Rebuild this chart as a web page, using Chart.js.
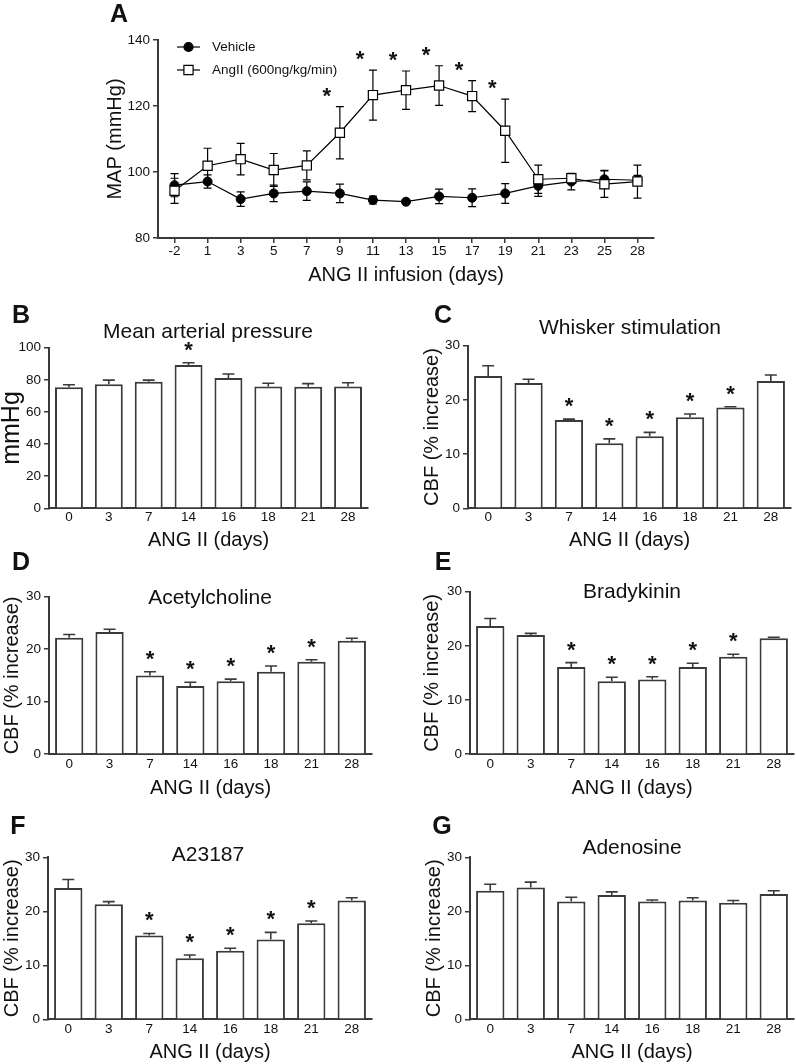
<!DOCTYPE html>
<html>
<head>
<meta charset="utf-8">
<script src="https://cdn.jsdelivr.net/npm/chart.js@4.4.0/dist/chart.umd.min.js"></script>
<style>
  body { margin: 0; background: #fff; }
  #page { position: relative; width: 796px; height: 1064px; overflow: hidden; background: #fff; }
  #page canvas { position: absolute; }
</style>
</head>
<body>
<div id="page"></div>
<script>
// ---- panel A: MAP time course ----
const infusionDays = ['-2', '1', '3', '5', '7', '9', '11', '13', '15', '17', '19', '21', '23', '25', '28'];
const vehicleMap = [96.0, 97.1, 91.8, 93.5, 94.2, 93.5, 91.5, 91.0, 92.6, 92.2, 93.5, 95.8, 97.1, 97.8, 97.5];
const vehicleSem = [3.5, 2.0, 2.2, 2.5, 2.8, 2.8, 1.2, 0.5, 2.2, 2.7, 3.0, 3.2, 2.5, 2.7, 1.5];
const angMap = [94.3, 101.9, 103.9, 100.6, 102.0, 111.9, 123.3, 124.8, 126.2, 123.0, 112.5, 97.8, 98.1, 96.3, 97.1];
const angSem = [3.8, 5.3, 4.8, 5.0, 4.4, 7.9, 7.6, 5.8, 6.0, 4.7, 9.6, 4.3, 1.3, 4.0, 5.0];
const angStars = [0, 0, 0, 0, 0, 1, 1, 1, 1, 1, 1, 0, 0, 0, 0];

// ---- panels B-G: bars ----
const barDays = ['0', '3', '7', '14', '16', '18', '21', '28'];
const mapMean = [75.3, 77.2, 78.8, 89.2, 81.1, 75.9, 75.7, 75.9];
const mapSem = [1.6, 2.6, 1.0, 1.4, 2.5, 2.0, 1.9, 2.3];
const mapStars = [0, 0, 0, 1, 0, 0, 0, 0];
const whiskerMean = [24.4, 23.1, 16.3, 12.0, 13.3, 16.8, 18.6, 23.5];
const whiskerSem = [1.9, 0.7, 0.15, 0.8, 0.7, 0.6, 0.15, 1.1];
const achMean = [22.2, 23.3, 15.0, 13.0, 13.9, 15.7, 17.6, 21.6];
const achSem = [0.6, 0.5, 0.7, 0.7, 0.4, 1.1, 0.4, 0.5];
const bkMean = [23.65, 22.0, 16.1, 13.45, 13.8, 16.1, 18.0, 21.4];
const bkSem = [1.4, 0.3, 0.8, 0.75, 0.5, 0.7, 0.45, 0.2];
const a23Mean = [24.3, 21.3, 15.5, 11.3, 12.7, 14.8, 17.8, 22.0];
const a23Sem = [1.6, 0.5, 0.4, 0.6, 0.45, 1.3, 0.4, 0.5];
const adoMean = [23.8, 24.4, 21.8, 23.0, 21.8, 22.0, 21.6, 23.2];
const adoSem = [1.2, 1.0, 0.8, 0.6, 0.3, 0.5, 0.4, 0.6];
const cbfStars = [0, 0, 1, 1, 1, 1, 1, 0];
const noStars = [0, 0, 0, 0, 0, 0, 0, 0];

const FONT = '"Liberation Sans", Arial, Helvetica, sans-serif';
const INK = '#111';
const AXIS = '#3a3a3a';

Chart.defaults.font.family = FONT;
Chart.defaults.color = INK;
Chart.defaults.animation = false;

// error bars, asterisks, panel letter/title, legend
const decor = {
  id: 'decor',
  beforeDatasetsDraw(chart, args, opts) {
    if (chart.config.type === 'line') drawErrors(chart, opts);
  },
  afterDatasetsDraw(chart, args, opts) {
    if (chart.config.type === 'bar') drawErrors(chart, opts);
    drawStars(chart, opts);
  },
  afterDraw(chart, args, opts) {
    const ctx = chart.ctx;
    ctx.save();
    ctx.fillStyle = INK;
    ctx.textBaseline = 'middle';
    ctx.textAlign = 'center';
    if (opts.letter) {
      ctx.font = 'bold 25px ' + FONT;
      ctx.fillText(opts.letter.text, opts.letter.x - opts.ox, opts.letter.y - opts.oy);
    }
    if (opts.title) {
      ctx.font = '21px ' + FONT;
      ctx.fillText(opts.title.text, opts.title.x - opts.ox, opts.title.y - opts.oy);
    }
    if (opts.legend) {
      opts.legend.forEach(item => {
        const ds = chart.data.datasets[item.ds];
        const y = item.y - opts.oy;
        const x0 = 177 - opts.ox, x1 = 200 - opts.ox, xm = (x0 + x1) / 2;
        ctx.strokeStyle = ds.borderColor;
        ctx.lineWidth = 1.2;
        ctx.beginPath(); ctx.moveTo(x0, y); ctx.lineTo(x1, y); ctx.stroke();
        ctx.fillStyle = ds.pointBackgroundColor;
        ctx.beginPath();
        if (ds.pointStyle === 'rect') {
          const s = ds.pointRadius * Math.SQRT1_2;
          ctx.rect(xm - s, y - s, 2 * s, 2 * s);
        } else {
          ctx.arc(xm, y, ds.pointRadius, 0, Math.PI * 2);
        }
        ctx.fill(); ctx.stroke();
        ctx.fillStyle = INK;
        ctx.font = '13.5px ' + FONT;
        ctx.textAlign = 'left';
        ctx.fillText(item.label, 212 - opts.ox, y);
      });
    }
    ctx.restore();
  }
};

function drawErrors(chart, opts) {
  const ctx = chart.ctx, ys = chart.scales.y;
  ctx.save();
  ctx.strokeStyle = opts.errColor;
  ctx.lineWidth = opts.errWidth;
  chart.data.datasets.forEach((ds, i) => {
    const meta = chart.getDatasetMeta(i);
    meta.data.forEach((el, j) => {
      const v = ds.data[j], e = ds.errors[j];
      const top = ys.getPixelForValue(v + e);
      const bot = opts.twoSided ? ys.getPixelForValue(v - e) : ys.getPixelForValue(v);
      const w = opts.cap / 2;
      ctx.beginPath();
      ctx.moveTo(el.x, bot); ctx.lineTo(el.x, top);
      ctx.moveTo(el.x - w, top); ctx.lineTo(el.x + w, top);
      if (opts.twoSided) { ctx.moveTo(el.x - w, bot); ctx.lineTo(el.x + w, bot); }
      ctx.stroke();
    });
  });
  ctx.restore();
}

function drawStars(chart, opts) {
  const ctx = chart.ctx, ys = chart.scales.y;
  ctx.save();
  ctx.fillStyle = INK;
  ctx.font = 'bold 22px ' + FONT;
  ctx.textAlign = 'center';
  ctx.textBaseline = 'alphabetic';
  chart.data.datasets.forEach((ds, i) => {
    if (!ds.stars) return;
    const meta = chart.getDatasetMeta(i);
    meta.data.forEach((el, j) => {
      if (!ds.stars[j]) return;
      const top = ys.getPixelForValue(ds.data[j] + ds.errors[j]);
      ctx.fillText('*', el.x + opts.starDx, top - opts.starGap + 12);
    });
  });
  ctx.restore();
}

function scalesFor(p) {
  const c = p.canvas, a = p.plot;
  const yTitleSize = p.yTitleSize || 20;
  return {
    x: {
      offset: true,
      grid: { display: true, drawOnChartArea: false, drawTicks: p.xTicks, tickLength: 5, color: AXIS, lineWidth: 1.5 },
      border: { display: true, color: AXIS, width: 2 },
      ticks: { font: { size: 13.5 }, color: INK, padding: p.xTickPad, maxRotation: 0, autoSkip: false },
      title: { display: true, text: p.xTitle, font: { size: 20 }, color: INK, padding: { top: 0, bottom: p.xTitlePad } },
      afterFit: s => { s.height = c.y + c.h - a.b; }
    },
    y: {
      min: p.yMin, max: p.yMax,
      ticks: { stepSize: p.yStep, font: { size: 13.5 }, color: INK, padding: 3 },
      grid: { drawOnChartArea: false, tickLength: 5, color: AXIS, lineWidth: 1.5 },
      border: { color: AXIS, width: 2 },
      title: { display: true, text: p.yTitle, font: { size: yTitleSize }, color: INK,
        padding: { top: p.yTitleX - c.x - yTitleSize * 0.6, bottom: 0 } },
      afterFit: s => { s.width = a.l - c.x; }
    }
  };
}

function makePanel(p, type, datasets, extra) {
  const c = p.canvas, a = p.plot;
  const cv = document.createElement('canvas');
  cv.width = c.w; cv.height = c.h;
  cv.style.left = c.x + 'px'; cv.style.top = c.y + 'px';
  document.getElementById('page').appendChild(cv);
  new Chart(cv, {
    type: type,
    data: { labels: p.labels, datasets: datasets },
    options: {
      responsive: false,
      devicePixelRatio: 1,
      layout: { padding: { top: a.t - c.y, right: c.x + c.w - a.r, left: 0, bottom: 0 } },
      scales: scalesFor(p),
      plugins: {
        legend: { display: false },
        tooltip: { enabled: false },
        decor: Object.assign({ ox: c.x, oy: c.y, letter: p.letter, title: p.title }, extra)
      }
    },
    plugins: [decor]
  });
}

// panel A
makePanel({
  labels: infusionDays,
  canvas: { x: 90, y: 0, w: 580, h: 290 }, plot: { l: 158, t: 40, r: 654, b: 238 },
  yMin: 80, yMax: 140, yStep: 20, yTitle: 'MAP (mmHg)', yTitleX: 115,
  xTitle: 'ANG II infusion (days)', xTitlePad: 3, xTicks: true, xTickPad: 0,
  letter: { text: 'A', x: 119, y: 15 }
}, 'line', [
  { label: 'AngII (600ng/kg/min)', data: angMap, errors: angSem, stars: angStars,
    borderColor: '#000', borderWidth: 1.2, tension: 0,
    pointStyle: 'rect', pointRadius: 6.5, pointBackgroundColor: '#fff', pointBorderColor: '#000', pointBorderWidth: 1.2 },
  { label: 'Vehicle', data: vehicleMap, errors: vehicleSem,
    borderColor: '#000', borderWidth: 1.2, tension: 0,
    pointStyle: 'circle', pointRadius: 4.5, pointBackgroundColor: '#000', pointBorderColor: '#000', pointBorderWidth: 1 }
], {
  twoSided: true, cap: 8, errColor: '#000', errWidth: 1.2, starDx: -13, starGap: 16,
  legend: [{ ds: 1, label: 'Vehicle', y: 47 }, { ds: 0, label: 'AngII (600ng/kg/min)', y: 70 }]
});

function barSet(mean, sem, stars) {
  return [{ data: mean, errors: sem, stars: stars, backgroundColor: '#fff', borderColor: AXIS,
    borderWidth: 2, barPercentage: 0.7, categoryPercentage: 1 }];
}
const barExtra = { twoSided: false, cap: 12, errColor: AXIS, errWidth: 1.6, starDx: 0, starGap: 18 };
const cbfAxis = { yMin: 0, yMax: 30, yStep: 10, yTitle: 'CBF (% increase)' };
const barCommon = { labels: barDays, xTitle: 'ANG II (days)', xTitlePad: 0, xTicks: false };

makePanel(Object.assign({}, barCommon, {
  canvas: { x: 0, y: 296, w: 385, h: 256 }, plot: { l: 49, t: 347.7, r: 368, b: 508.3 },
  yMin: 0, yMax: 100, yStep: 20, yTitle: 'mmHg', yTitleX: 12, yTitleSize: 25, xTickPad: 1,
  title: { text: 'Mean arterial pressure', x: 208, y: 332 }, letter: { text: 'B', x: 21, y: 316 }
}), 'bar', barSet(mapMean, mapSem, mapStars), barExtra);

makePanel(Object.assign({}, barCommon, cbfAxis, {
  canvas: { x: 400, y: 296, w: 396, h: 256 }, plot: { l: 468, t: 345.7, r: 791, b: 508.3 },
  yTitleX: 432, xTickPad: 1,
  title: { text: 'Whisker stimulation', x: 630, y: 328 }, letter: { text: 'C', x: 443, y: 316 }
}), 'bar', barSet(whiskerMean, whiskerSem, cbfStars), barExtra);

makePanel(Object.assign({}, barCommon, cbfAxis, {
  canvas: { x: 0, y: 552, w: 385, h: 248 }, plot: { l: 49, t: 596.7, r: 372, b: 754.2 },
  yTitleX: 12, xTickPad: 2,
  title: { text: 'Acetylcholine', x: 210, y: 598 }, letter: { text: 'D', x: 21, y: 563 }
}), 'bar', barSet(achMean, achSem, cbfStars), barExtra);

makePanel(Object.assign({}, barCommon, cbfAxis, {
  canvas: { x: 400, y: 552, w: 396, h: 248 }, plot: { l: 470, t: 591.7, r: 794, b: 754.2 },
  yTitleX: 432, xTickPad: 2,
  title: { text: 'Bradykinin', x: 632, y: 592 }, letter: { text: 'E', x: 443, y: 563 }
}), 'bar', barSet(bkMean, bkSem, cbfStars), barExtra);

makePanel(Object.assign({}, barCommon, cbfAxis, {
  canvas: { x: 0, y: 806, w: 385, h: 258 }, plot: { l: 48, t: 857.3, r: 372, b: 1019.3 },
  yTitleX: 12, xTickPad: 2,
  title: { text: 'A23187', x: 208, y: 855 }, letter: { text: 'F', x: 18, y: 827 }
}), 'bar', barSet(a23Mean, a23Sem, cbfStars), barExtra);

makePanel(Object.assign({}, barCommon, cbfAxis, {
  canvas: { x: 400, y: 806, w: 396, h: 258 }, plot: { l: 470, t: 857.3, r: 794, b: 1019.3 },
  yTitleX: 434, xTickPad: 2,
  title: { text: 'Adenosine', x: 632, y: 848 }, letter: { text: 'G', x: 442, y: 827 }
}), 'bar', barSet(adoMean, adoSem, noStars), barExtra);
</script>
</body>
</html>
